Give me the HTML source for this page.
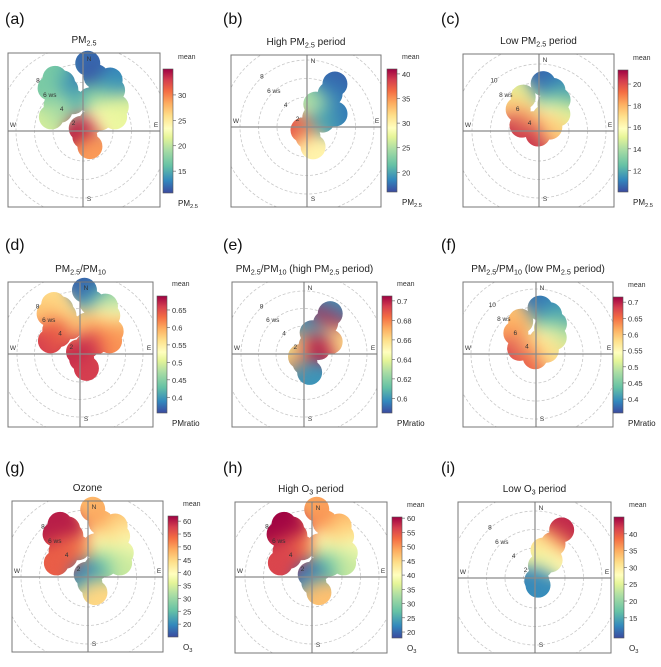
<!DOCTYPE html>
<html><head><meta charset="utf-8">
<style>
html,body{margin:0;padding:0;background:#fff;}
svg{display:block;font-family:"Liberation Sans",Arial,sans-serif;}
</style></head>
<body>
<svg id="fig" width="661" height="667" viewBox="0 0 661 667" xmlns="http://www.w3.org/2000/svg">
<defs>
<linearGradient id="spec" x1="0" y1="1" x2="0" y2="0">
<stop offset="0" stop-color="#3b4a9f"/><stop offset="0.1" stop-color="#3288bd"/><stop offset="0.22" stop-color="#66c2a5"/><stop offset="0.35" stop-color="#abdda4"/><stop offset="0.45" stop-color="#e6f598"/><stop offset="0.52" stop-color="#ffffbf"/><stop offset="0.62" stop-color="#fee08b"/><stop offset="0.72" stop-color="#fdae61"/><stop offset="0.82" stop-color="#f46d43"/><stop offset="0.91" stop-color="#d53e4f"/><stop offset="1" stop-color="#9e0142"/>
</linearGradient>
<filter id="blur" x="-50%" y="-50%" width="200%" height="200%" color-interpolation-filters="sRGB">
<feGaussianBlur stdDeviation="8"/>
<feComponentTransfer><feFuncA type="linear" slope="40" intercept="0"/></feComponentTransfer>
</filter>
</defs>
</svg>
<script>
// ---- data: shape A (full dataset): wind direction (deg), wind speed (ws)
const dirA = [4,13.5,28,36,24,13,35,54,66,53,42,326,162,156,332,337,337.5,322.5,314,341,294,312];
const wsA  = [8.1,6.8,7.0,6.2,5.3,4.2,3.9,5.2,4.5,3.1,2.1,1.1,1.4,2.6,7.2,6.4,5.6,6.6,4.8,4.1,4.5,4.1];
// shape B (high PM2.5 period)
const dirB = [33,35,43.5,65,21,39,233,174,163,66];
const wsB  = [6.3,5.1,3.7,4.1,3.4,2.1,1.3,1.8,3.0,2.6];
// shape C (low PM2.5 period)
const dirC = [5,19,31.5,22,48,23,335,316,289,319,198,70];
const wsC  = [7.9,7.4,6.7,5.9,5.5,4.4,6.8,6.0,4.7,3.8,3.1,4.0];
// shape D (low O3 period)
const dirD = [29,28,16,40,24,146,157];
const wsD  = [6.7,4.9,3.9,3.3,2.2,1.1,1.6];

// ---- series values
const valA_pm  = [12,11,13,14,15,17,20,21,22,22,24,33,35,29,17,16,13,17,17,15,21,19];
const valD_rat = [0.37,0.40,0.45,0.52,0.55,0.58,0.60,0.59,0.61,0.62,0.66,0.67,0.67,0.66,0.56,0.57,0.56,0.58,0.63,0.58,0.66,0.64];
const valG_o3  = [48,50,47,42,45,40,37,38,34,32,26,18,22,45,60,60,60,60,54,52,55,55];
const valH_o3  = [49,51,48,44,46,40,38,39,35,32,27,19,23,47,61,60,59,60,55,52,56,56];
const valB_pm  = [17,18,19,18,24,28,38,36,30,20];
const valE_rat = [0.60,0.70,0.66,0.66,0.60,0.67,0.64,0.68,0.60,0.70];
const valC_pm  = [10.5,11,12,13,15,16,15,17.5,20.5,18,20.5,17.5];
const valF_rat = [0.38,0.40,0.42,0.45,0.50,0.55,0.60,0.62,0.68,0.60,0.66,0.58];
const valI_o3  = [43,36,31,29,26,11,13];

// ---- tick labels
const ticksA = [15,20,25,30];
const ticksB = [20,25,30,35,40];
const ticksC = [12,14,16,18,20];
const ticksD = [0.4,0.45,0.5,0.55,0.6,0.65];
const ticksE = [0.6,0.62,0.64,0.66,0.68,0.7];
const ticksF = [0.4,0.45,0.5,0.55,0.6,0.65,0.7];
const ticksG = [20,25,30,35,40,45,50,55,60];
const ticksH = [20,25,30,35,40,45,50,55,60];
const ticksI = [15,20,25,30,35,40];

const STOPS=[[0,"#3b4a9f"],[0.1,"#3288bd"],[0.22,"#66c2a5"],[0.35,"#abdda4"],[0.45,"#e6f598"],[0.52,"#ffffbf"],[0.62,"#fee08b"],[0.72,"#fdae61"],[0.82,"#f46d43"],[0.91,"#d53e4f"],[1,"#9e0142"]];
function hex(h){return [1,3,5].map(i=>parseInt(h.substr(i,2),16));}
function cmap(t){t=Math.max(0,Math.min(1,t));for(let i=1;i<STOPS.length;i++){if(t<=STOPS[i][0]){const a=STOPS[i-1],b=STOPS[i];const f=(t-a[0])/(b[0]-a[0]);const ca=hex(a[1]),cb=hex(b[1]);return "rgb("+ca.map((v,k)=>Math.round(v+(cb[k]-v)*f)).join(",")+")";}}return STOPS[STOPS.length-1][1];}

const panels=[
 {lab:"(a)",lx:5,ly:24,title:["PM","2.5",""],dir:dirA,ws:wsA,val:valA_pm,ticks:ticksA,vmin:10.7,vmax:35.1,box:[8,53,160,207],c:[83,131],cb:[163,69,193],ring:18.5,wsStep:2,wsOff:0,rl:["2","4","6 ws","8"],unit:["PM","2.5"]},
 {lab:"(b)",lx:223,ly:24,title:["High PM","2.5"," period"],dir:dirB,ws:wsB,val:valB_pm,ticks:ticksB,vmin:16,vmax:41,box:[231,55,381,207],c:[307,127],cb:[387,69,192],ring:18.5,wsStep:2,wsOff:0,rl:["2","4","6 ws","8"],unit:["PM","2.5"]},
 {lab:"(c)",lx:441,ly:24,title:["Low PM","2.5"," period"],dir:dirC,ws:wsC,val:valC_pm,ticks:ticksC,vmin:10,vmax:21.3,box:[463,54,614,207],c:[539,131],cb:[618,70,192],ring:18.5,wsStep:2,wsOff:2,rl:["4","6","8 ws","10"],unit:["PM","2.5"]},
 {lab:"(d)",lx:5,ly:250,title:["PM","2.5","/PM","10",""],dir:dirA,ws:wsA,val:valD_rat,ticks:ticksD,vmin:0.355,vmax:0.69,box:[8,282,153,427],c:[80,354],cb:[157,296,413],ring:17.5,wsStep:2,wsOff:0,rl:["2","4","6 ws","8"],unit:["PMratio"]},
 {lab:"(e)",lx:223,ly:250,title:["PM","2.5","/PM","10"," (high PM","2.5"," period)"],dir:dirB,ws:wsB,val:valE_rat,ticks:ticksE,vmin:0.585,vmax:0.705,box:[232,282,377,427],c:[304,354],cb:[382,296,413],ring:17.5,wsStep:2,wsOff:0,rl:["2","4","6 ws","8"],unit:["PMratio"]},
 {lab:"(f)",lx:441,ly:250,title:["PM","2.5","/PM","10"," (low PM","2.5"," period)"],dir:dirC,ws:wsC,val:valF_rat,ticks:ticksF,vmin:0.357,vmax:0.716,box:[463,282,613,427],c:[536,354],cb:[613,297,413],ring:18,wsStep:2,wsOff:2,rl:["4","6","8 ws","10"],unit:["PMratio"]},
 {lab:"(g)",lx:5,ly:473,title:["Ozone"],dir:dirA,ws:wsA,val:valG_o3,ticks:ticksG,vmin:15,vmax:62,box:[12,501,163,652],c:[88,577],cb:[168,516,637],ring:18.5,wsStep:2,wsOff:0,rl:["2","4","6 ws","8"],unit:["O","3"]},
 {lab:"(h)",lx:223,ly:473,title:["High O","3"," period"],dir:dirA,ws:wsA,val:valH_o3,ticks:ticksH,vmin:17.9,vmax:60.4,box:[235,502,387,653],c:[312,577],cb:[392,517,638],ring:18.5,wsStep:2,wsOff:0,rl:["2","4","6 ws","8"],unit:["O","3"]},
 {lab:"(i)",lx:441,ly:473,title:["Low O","3"," period"],dir:dirD,ws:wsD,val:valI_o3,ticks:ticksI,vmin:9,vmax:45,box:[458,502,611,653],c:[535,578],cb:[614,517,638],ring:18.5,wsStep:2,wsOff:0,rl:["2","4","6 ws","8"],unit:["O","3"]}
];

const NS="http://www.w3.org/2000/svg";
const svg=document.getElementById("fig");
function mk(tag,attrs,parent){const e=document.createElementNS(NS,tag);for(const k in attrs)e.setAttribute(k,attrs[k]);(parent||svg).appendChild(e);return e;}
function subText(parts,x,y,size,anchor,parent){
  const t=mk("text",{x:x,y:y,"font-size":size,"text-anchor":anchor,fill:"#222"},parent);
  parts.forEach((p,i)=>{const s=document.createElementNS(NS,"tspan");s.textContent=p;
    if(i%2===1){s.setAttribute("font-size",size*0.72);s.setAttribute("dy",size*0.25);}
    else if(i>0){s.setAttribute("dy",-size*0.25);}
    t.appendChild(s);});
  return t;
}

panels.forEach((p,pi)=>{
  const g=mk("g",{});
  
  
  const [x0,y0,x1,y1]=p.box,[cx,cy]=p.c;
  const rOf=ws=>Math.max(0,p.ring*((ws-p.wsOff)/p.wsStep)-7);
  const lab=mk("text",{x:p.lx,y:p.ly,"font-size":16,fill:"#111"},g);lab.textContent=p.lab;
  
  
  const tt=subText(p.title,(x0+x1)/2,p.c[1]-(cy-y0)-10,10,"middle",g);
  
  
  const cid="clipbox"+pi, bid="blob"+pi;
  const cp=mk("clipPath",{id:cid},g);mk("rect",{x:x0,y:y0,width:x1-x0,height:y1-y0},cp);
  const bp=mk("clipPath",{id:bid},g);
  const pts=p.dir.map((d,i)=>{const r=rOf(p.ws[i]);const a=d*Math.PI/180;return [cx+r*Math.sin(a),cy-r*Math.cos(a)];});
  pts.forEach(q=>mk("circle",{cx:q[0],cy:q[1],r:12.5},bp));
  const grid=mk("g",{"clip-path":"url(#"+cid+")"},g);
  for(let k=1;k<=5;k++){mk("circle",{cx:cx,cy:cy,r:p.ring*k-7,fill:"none",stroke:"#c8c8c8","stroke-width":0.8,"stroke-dasharray":"3,2"},grid);}
  const field=mk("g",{"clip-path":"url(#"+bid+")"},g);
  const inner=mk("g",{filter:"url(#blur)"},field);
  pts.forEach((q,i)=>{
    const c=mk("circle",{cx:q[0],cy:q[1],r:13,fill:cmap((p.val[i]-p.vmin)/(p.vmax-p.vmin))},inner);
    
    
  });
  const axes=mk("g",{"clip-path":"url(#"+cid+")"},g);
  mk("line",{x1:x0,y1:cy,x2:x1,y2:cy,stroke:"#8a8a8a","stroke-width":1.2},axes);
  mk("line",{x1:cx,y1:y0,x2:cx,y2:y1,stroke:"#8a8a8a","stroke-width":1.2},axes);
  const box=mk("rect",{x:x0,y:y0,width:x1-x0,height:y1-y0,fill:"none",stroke:"#777","stroke-width":1},g);
  
  
  p.rl.forEach((s,k)=>{const r=p.ring*(k+1)-7;const a=-40*Math.PI/180;
    const t=mk("text",{x:cx+r*Math.sin(a)-2,y:cy-r*Math.cos(a)+3,"font-size":6.5,fill:"#333","text-anchor":"middle"},g);t.textContent=s;
    
    });
  [["N",cx+6,y0+8],["S",cx+6,y1-6],["W",x0+5,cy-4],["E",x1-4,cy-4]].forEach(d=>{
    const t=mk("text",{x:d[1],y:d[2],"font-size":6.5,fill:"#333","text-anchor":"middle"},g);t.textContent=d[0];
    
    });
  const [bx,by0,by1]=p.cb;
  const cbr=mk("rect",{x:bx,y:by0,width:10,height:by1-by0,fill:"url(#spec)",stroke:"#555","stroke-width":0.6},g);
  
  
  const m=mk("text",{x:bx+15,y:by0-10,"font-size":7,fill:"#333"},g);m.textContent="mean";
  
  
  p.ticks.forEach(v=>{const y=by1-(v-p.vmin)/(p.vmax-p.vmin)*(by1-by0);
    mk("line",{x1:bx+10,y1:y,x2:bx+13,y2:y,stroke:"#555","stroke-width":0.6},g);
    const t=mk("text",{x:bx+15,y:y+3,"font-size":7.5,fill:"#333"},g);t.textContent=String(v);
    
    });
  const u=subText(p.unit,bx+15,by1+13,8,"start",g);
  
  
});
</script>
</body></html>
